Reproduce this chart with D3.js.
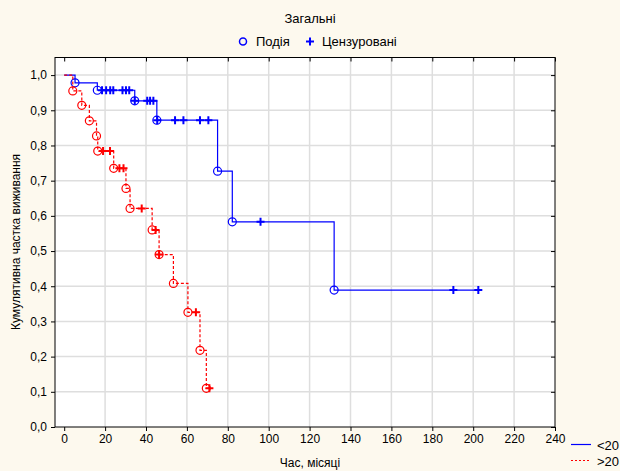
<!DOCTYPE html>
<html>
<head>
<meta charset="utf-8">
<script src="https://cdn.jsdelivr.net/npm/d3@7/dist/d3.min.js"></script>
<style>
  body { margin: 0; background: #fdf9ee; }
  svg { display: block; font-family: "Liberation Sans", Arial, sans-serif; }
</style>
</head>
<body>
<div id="chart"></div>
<script>
// Survival curves (Kaplan-Meier)
const lowEventTimes = [5.3, 16.2, 34.5, 45.3, 75, 82.2, 132];
const lowEventSurv = [0.978, 0.957, 0.927, 0.872, 0.727, 0.583, 0.389];
const lowCensTimes = [18.5, 20.5, 22.5, 24, 28.5, 30.2, 31.8, 34.5, 40.6, 42, 43.6, 45.5, 54.2, 58.3, 66.4, 70.5, 96, 190.3, 202.5];

const highEventTimes = [4.2, 8.6, 12.3, 15.8, 16.4, 24.2, 30.2, 32.2, 43, 46.4, 53.4, 60.5, 66.4, 69.5];
const highEventSurv = [0.955, 0.914, 0.870, 0.827, 0.784, 0.735, 0.678, 0.621, 0.560, 0.490, 0.408, 0.326, 0.218, 0.110];
const highCensTimes = [19, 22.4, 27, 29, 37.9, 44.7, 46.4, 64.4, 71];

const xTicks = [0, 20, 40, 60, 80, 100, 120, 140, 160, 180, 200, 220, 240];
const yTicks = [0, 0.1, 0.2, 0.3, 0.4, 0.5, 0.6, 0.7, 0.8, 0.9, 1.0];

const WIDTH = 620, HEIGHT = 471;
const PLOT = { left: 55, right: 555, top: 57.5, bottom: 427 };

const svg = d3.select('#chart').append('svg')
    .attr('width', WIDTH)
    .attr('height', HEIGHT);

const x = d3.scaleLinear().domain([-4.5, 240]).range([PLOT.left, PLOT.right]);
const y = d3.scaleLinear().domain([0, 1.05]).range([PLOT.bottom, PLOT.top]);
const fmt = d => d3.format('.1f')(d).replace('.', ',');

// plot background
svg.append('rect')
    .attr('x', PLOT.left).attr('y', PLOT.top)
    .attr('width', PLOT.right - PLOT.left).attr('height', PLOT.bottom - PLOT.top)
    .attr('fill', '#fff');

// grid
const grid = svg.append('g').attr('stroke', '#dedede').attr('stroke-width', 1.5);
grid.selectAll('.gx').data(xTicks.filter(d => d > 0 && d < 240)).enter()
    .append('line')
    .attr('x1', d => x(d)).attr('x2', d => x(d))
    .attr('y1', PLOT.top).attr('y2', PLOT.bottom);
grid.selectAll('.gy').data(yTicks.filter(d => d > 0)).enter()
    .append('line')
    .attr('y1', d => y(d)).attr('y2', d => y(d))
    .attr('x1', PLOT.left).attr('x2', PLOT.right);

// axes
svg.append('g')
    .attr('transform', `translate(0, ${PLOT.bottom})`)
    .call(d3.axisBottom(x).tickValues(xTicks).tickSize(4).tickPadding(3))
    .call(g => g.select('.domain').remove());
svg.append('g')
    .attr('transform', `translate(${PLOT.left}, 0)`)
    .call(d3.axisLeft(y).tickValues(yTicks).tickFormat(fmt).tickSize(4).tickPadding(4))
    .call(g => g.select('.domain').remove());
svg.append('g')
    .attr('transform', `translate(0, ${PLOT.top})`)
    .call(d3.axisBottom(x).tickValues(xTicks).tickFormat('').tickSize(4))
    .call(g => g.select('.domain').remove());
svg.append('g')
    .attr('transform', `translate(${PLOT.right}, 0)`)
    .call(d3.axisLeft(y).tickValues(yTicks).tickFormat('').tickSize(4))
    .call(g => g.select('.domain').remove());

svg.selectAll('.tick text').attr('font-size', 12).attr('fill', '#000')
    .attr('font-family', '"Liberation Sans", Arial, sans-serif');
svg.selectAll('.tick line').attr('stroke', '#000');

// frame
svg.append('rect')
    .attr('x', PLOT.left).attr('y', PLOT.top)
    .attr('width', PLOT.right - PLOT.left).attr('height', PLOT.bottom - PLOT.top)
    .attr('fill', 'none').attr('stroke', '#000').attr('stroke-width', 1);

// axis titles
svg.append('text')
    .attr('x', 310).attr('y', 467)
    .attr('text-anchor', 'middle').attr('font-size', 12)
    .text('Час, місяці');
svg.append('text')
    .attr('transform', 'translate(20, 242) rotate(-90)')
    .attr('text-anchor', 'middle').attr('font-size', 12)
    .text('Кумулятивна частка виживання');

// survival step helpers
function survAt(times, surv, t) {
    let s = 1;
    times.forEach((tt, i) => { if (tt <= t) s = surv[i]; });
    return s;
}
function stepPoints(times, surv, end) {
    const pts = [[0, 1]];
    let s = 1;
    times.forEach((t, i) => {
        pts.push([t, s]);
        s = surv[i];
        pts.push([t, s]);
    });
    pts.push([end, s]);
    return pts;
}

const series = [
    { ev: lowEventTimes, sv: lowEventSurv, cens: lowCensTimes, color: '#0000ff', dash: null },
    { ev: highEventTimes, sv: highEventSurv, cens: highCensTimes, color: '#ff0000', dash: '3,2' }
];

const line = d3.line().x(d => x(d[0])).y(d => y(d[1]));

series.forEach(s => {
    const end = d3.max([d3.max(s.cens), d3.max(s.ev)]);
    const g = svg.append('g');
    g.append('path')
        .datum(stepPoints(s.ev, s.sv, end))
        .attr('d', line)
        .attr('fill', 'none')
        .attr('stroke', s.color)
        .attr('stroke-width', 1.2)
        .attr('stroke-dasharray', s.dash);

    g.selectAll('circle').data(s.ev.map((t, i) => [t, s.sv[i]])).enter()
        .append('circle')
        .attr('cx', d => x(d[0])).attr('cy', d => y(d[1]))
        .attr('r', 4)
        .attr('fill', 'none')
        .attr('stroke', s.color)
        .attr('stroke-width', 1.2);

    g.selectAll('.cens').data(s.cens.map(t => [t, survAt(s.ev, s.sv, t)])).enter()
        .append('path')
        .attr('transform', d => `translate(${x(d[0])}, ${y(d[1])})`)
        .attr('d', 'M-4,0H4M0,-4V4')
        .attr('stroke', s.color)
        .attr('stroke-width', 2);
});

// top legend
const leg = svg.append('g').attr('font-size', 13);
leg.append('text').attr('x', 310).attr('y', 23).attr('text-anchor', 'middle').text('Загальні');
leg.append('circle').attr('cx', 243).attr('cy', 41.5).attr('r', 3.5)
    .attr('fill', 'none').attr('stroke', '#0000ff').attr('stroke-width', 1.5);
leg.append('text').attr('x', 256).attr('y', 46).text('Подія');
leg.append('path').attr('d', 'M306,41.5H314M310,37.5V45.5')
    .attr('stroke', '#0000ff').attr('stroke-width', 2);
leg.append('text').attr('x', 322).attr('y', 46).text('Цензуровані');

// bottom-right legend
const leg2 = svg.append('g').attr('font-size', 13);
leg2.append('line').attr('x1', 571).attr('x2', 591).attr('y1', 444.5).attr('y2', 444.5)
    .attr('stroke', '#0000ff').attr('stroke-width', 1.2);
leg2.append('text').attr('x', 597).attr('y', 449.5).text('<20');
leg2.append('line').attr('x1', 571).attr('x2', 591).attr('y1', 460.5).attr('y2', 460.5)
    .attr('stroke', '#ff0000').attr('stroke-width', 1.2).attr('stroke-dasharray', '2,2');
leg2.append('text').attr('x', 597).attr('y', 466).text('>20');
</script>
</body>
</html>
